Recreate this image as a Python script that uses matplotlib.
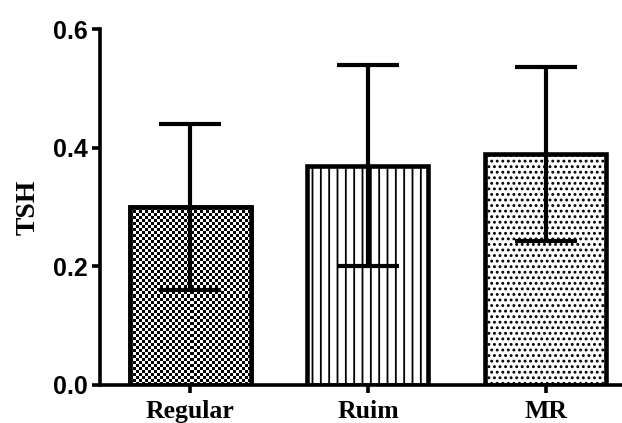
import numpy as np
import matplotlib.pyplot as plt

plt.rcParams['hatch.linewidth'] = 1.3

groups = ["Regular", "Ruim", "MR"]
means = [0.30, 0.37, 0.39]
errors = [0.14, 0.17, 0.147]
hatches = [None, "||", "..."]

fig = plt.figure(figsize=(6.22, 4.23), dpi=100)
ax = fig.add_axes([0.161, 0.090, 0.839, 0.841])

x = np.arange(len(groups))
bars = ax.bar(x, means, width=0.68, color="white", edgecolor="black",
              linewidth=3.3, zorder=2)
for b, h in zip(bars, hatches):
    if h:
        b.set_hatch(h)

ax.errorbar(x, means, yerr=errors, fmt="none", ecolor="black",
            elinewidth=3, capsize=22, capthick=3, zorder=4)

ax.set_xlim(-0.507, 2.43)
ax.set_ylim(0, 0.6)
ax.set_yticks([0.0, 0.2, 0.4, 0.6])
ax.set_yticklabels(["0.0", "0.2", "0.4", "0.6"])
ax.set_xticks(x)
ax.set_xticklabels(groups)

# checkerboard texture for the first bar, clipped to the bar itself
b0 = bars[0]
bb = b0.get_window_extent(fig.canvas.get_renderer())
nx = max(int(round(bb.width / 3)), 1)
ny = max(int(round(bb.height / 3)), 1)
checker = (np.indices((ny, nx)).sum(axis=0) % 2).astype(float)
x0, y0 = b0.get_x(), b0.get_y()
img = ax.imshow(checker, cmap="gray", extent=(x0, x0 + b0.get_width(), y0, y0 + b0.get_height()),
                interpolation="nearest", aspect="auto", zorder=2.5)
img.set_clip_path(b0)
ax.bar(x[:1], means[:1], width=0.68, color="none", edgecolor="black",
       linewidth=3.3, zorder=3)

for s in ["top", "right"]:
    ax.spines[s].set_visible(False)
for s in ["left", "bottom"]:
    ax.spines[s].set_linewidth(2.6)

ax.tick_params(axis="both", direction="out", length=6, width=2.6)
ax.tick_params(axis="y", pad=3)
ax.tick_params(axis="x", pad=5)
for lab in ax.get_yticklabels():
    lab.set_fontfamily("Liberation Sans")
    lab.set_fontweight("bold")
    lab.set_fontsize(18)
for lab in ax.get_xticklabels():
    lab.set_fontfamily("Liberation Serif")
    lab.set_fontweight("bold")
    lab.set_fontsize(18.5)

ax.set_ylabel("TSH", fontfamily="Liberation Serif", fontweight="bold",
              fontsize=20, labelpad=9)

fig.savefig("out.png", dpi=100)
